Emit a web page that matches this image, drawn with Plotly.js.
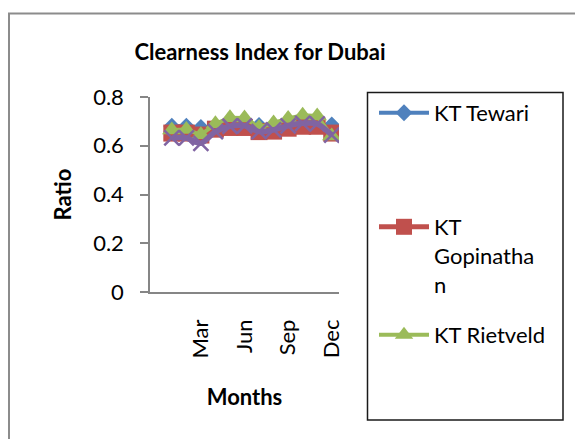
<!DOCTYPE html>
<html>
<head>
<meta charset="utf-8">
<script src="https://cdn.plot.ly/plotly-3.0.1.min.js"></script>
<style>
  html, body { margin: 0; padding: 0; background: #ffffff; }
  #chart { width: 575px; height: 439px; }
</style>
</head>
<body>
<div id="chart"></div>
<script>
// ---- data ----
const months = ['Jan', 'Feb', 'Mar', 'Apr', 'May', 'Jun', 'Jul', 'Aug', 'Sep', 'Oct', 'Nov', 'Dec'];
const tickLabels = ['Mar', 'Jun', 'Sep', 'Dec'];
const ktTewari     = [0.680, 0.680, 0.675, 0.672, 0.680, 0.680, 0.683, 0.672, 0.680, 0.685, 0.685, 0.685];
const ktGopinathan = [0.652, 0.652, 0.644, 0.668, 0.675, 0.675, 0.658, 0.660, 0.672, 0.680, 0.680, 0.652];
const ktRietveld   = [0.665, 0.667, 0.645, 0.690, 0.715, 0.714, 0.675, 0.693, 0.712, 0.725, 0.722, 0.640];
const series4      = [0.632, 0.632, 0.610, 0.658, 0.680, 0.682, 0.658, 0.665, 0.682, 0.692, 0.690, 0.644];
const yTicks = [0, 0.2, 0.4, 0.6, 0.8];

// category positions: one empty slot before January, as in the reference
const xPos = months.map((m, i) => i + 1);
const tickPos = tickLabels.map(t => months.indexOf(t) + 1);

const FONT = 'Lato, Carlito, Calibri, "Noto Sans", sans-serif';

const traces = [
  { x: xPos, y: ktTewari, name: 'KT Tewari', type: 'scatter', mode: 'lines+markers',
    line: { color: '#4F81BD', width: 4 },
    marker: { symbol: 'diamond', size: 13, color: '#4F81BD' },
    legend: 'legend', customdata: months },
  { x: xPos, y: ktGopinathan, name: 'KT<br>Gopinatha<br>n', type: 'scatter', mode: 'lines+markers',
    line: { color: '#C0504D', width: 5 },
    marker: { symbol: 'square', size: 17, color: '#C0504D' },
    legend: 'legend2', customdata: months },
  { x: xPos, y: ktRietveld, name: 'KT Rietveld', type: 'scatter', mode: 'lines+markers',
    line: { color: '#9BBB59', width: 4 },
    marker: { symbol: 'triangle-up', size: 17, color: '#9BBB59' },
    legend: 'legend3', customdata: months },
  { x: xPos, y: series4, name: 'Series 4', type: 'scatter', mode: 'lines+markers',
    line: { color: '#8064A2', width: 5.5, shape: 'spline', smoothing: 0.8 },
    marker: { symbol: 'x-thin', size: 15, color: '#8064A2', line: { color: '#8064A2', width: 2.5 } },
    showlegend: false, customdata: months }
];

// paper-coordinate helpers (plot area: x 150..339 px, y 97..292 px)
const L = 150, R = 339, T = 97, B = 292;
const px = v => (v - L) / (R - L);
const py = v => (B - v) / (B - T);

const legendCommon = {
  bgcolor: 'rgba(0,0,0,0)', borderwidth: 0,
  font: { family: FONT, size: 22, color: '#000000' },
  xanchor: 'left', yanchor: 'top', itemwidth: 50, valign: 'top',
  itemclick: false, itemdoubleclick: false
};

const layout = {
  width: 575, height: 439,
  margin: { l: L, r: 575 - R, t: T, b: 439 - B, pad: 0 },
  paper_bgcolor: '#ffffff', plot_bgcolor: '#ffffff',
  font: { family: FONT, size: 22, color: '#000000' },
  title: {
    text: 'Clearness Index for Dubai',
    font: { family: FONT, size: 22, color: '#000000', weight: 'bold' },
    xref: 'container', yref: 'container',
    x: 260 / 575, xanchor: 'center',
    y: 1 - 52 / 439, yanchor: 'middle'
  },
  xaxis: {
    range: [-0.5, 12.5], tickmode: 'array', tickvals: tickPos, ticktext: tickLabels,
    tickangle: -90, ticks: '', showgrid: false, zeroline: false,
    showline: true, linecolor: '#868686', linewidth: 1.5,
    tickfont: { family: FONT, size: 22, color: '#000000' },
    ticklabelstandoff: 17, automargin: false, fixedrange: true,
    title: { text: 'Months', font: { family: FONT, size: 22, color: '#000000', weight: 'bold' }, standoff: 32 }
  },
  yaxis: {
    range: [0, 0.8], tickmode: 'array', tickvals: yTicks, ticktext: yTicks.map(v => String(v)),
    ticks: 'outside', ticklen: 8, tickwidth: 1.5, tickcolor: '#868686',
    showgrid: false, zeroline: false,
    showline: true, linecolor: '#868686', linewidth: 1.5,
    tickfont: { family: FONT, size: 22, color: '#000000' },
    ticklabelstandoff: 12, automargin: false, fixedrange: true,
    title: { text: 'Ratio', font: { family: FONT, size: 22, color: '#000000', weight: 'bold' }, standoff: 15 }
  },
  showlegend: true,
  legend:  Object.assign({}, legendCommon, { x: px(374), y: py(92) }),
  legend2: Object.assign({}, legendCommon, { x: px(374), y: py(206) }),
  legend3: Object.assign({}, legendCommon, { x: px(374), y: py(314) }),
  shapes: [
    // outer chart-area border (runs off the right and bottom edges)
    { type: 'rect', xref: 'paper', yref: 'paper', layer: 'below',
      x0: px(9), x1: px(600), y0: py(460), y1: py(13.5),
      line: { color: '#8C8C8C', width: 2 }, fillcolor: 'rgba(0,0,0,0)' },
    // legend box
    { type: 'rect', xref: 'paper', yref: 'paper', layer: 'below',
      x0: px(367.5), x1: px(563), y0: py(420), y1: py(92.5),
      line: { color: '#1A1A1A', width: 1.5 }, fillcolor: 'rgba(0,0,0,0)' }
  ],
  hovermode: 'closest'
};

Plotly.newPlot('chart', traces, layout, { displayModeBar: false, responsive: false });
</script>
</body>
</html>
